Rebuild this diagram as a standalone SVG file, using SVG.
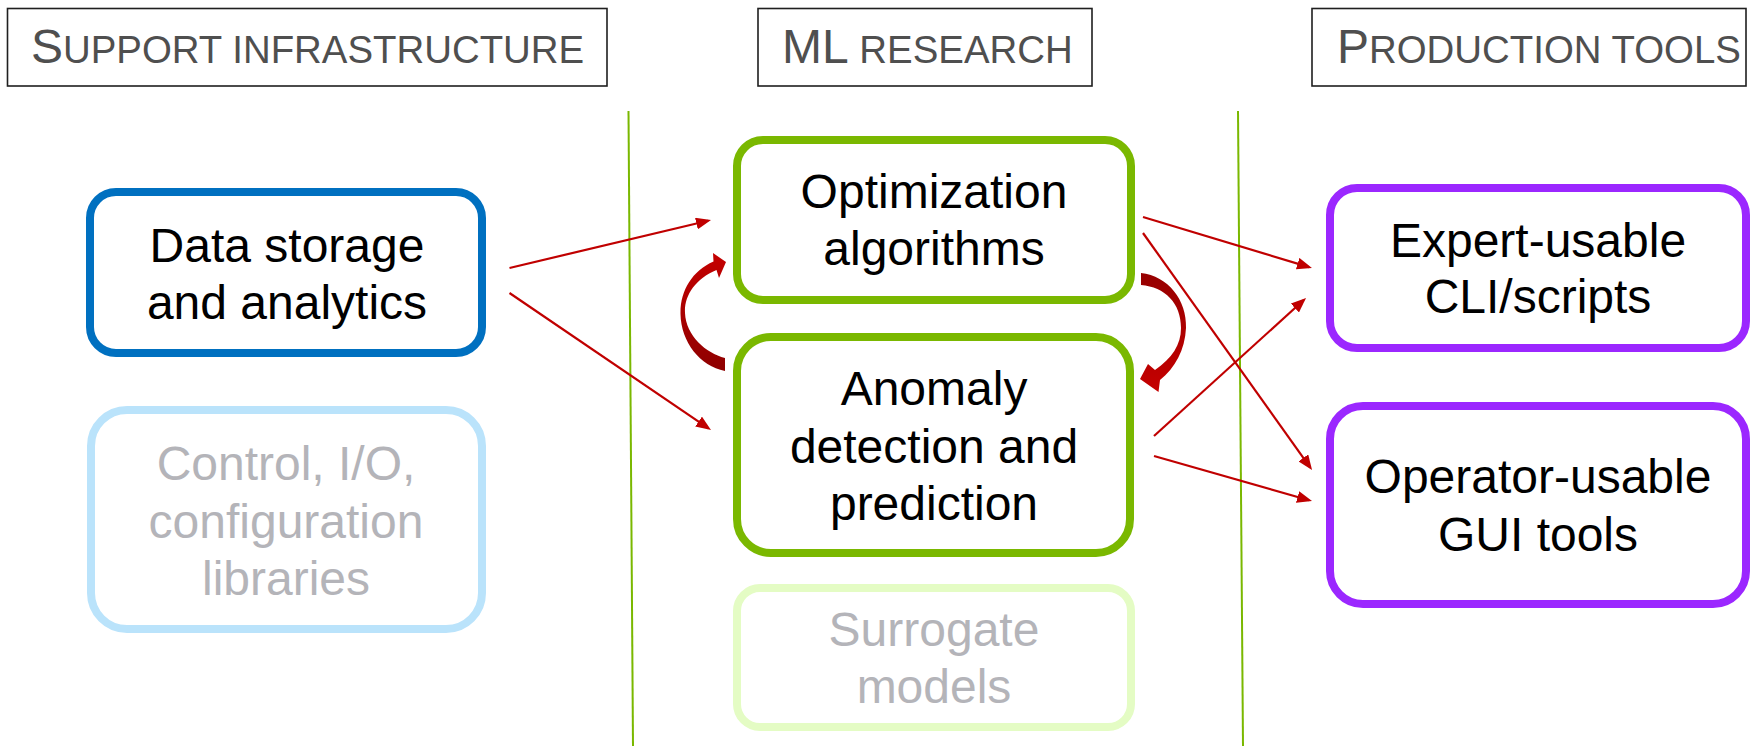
<svg xmlns="http://www.w3.org/2000/svg" width="1752" height="746" viewBox="0 0 1752 746">
  <style>
    .hdr-box { fill: #ffffff; stroke: #1f1f1f; stroke-width: 1.6; }
    .hdr { font-family: "Liberation Sans", Arial, sans-serif; font-size: 48px; fill: #4f4f4f; }
    .sc { font-size: 38.4px; }
    .node-box { fill: #ffffff; stroke-width: 8; }
    .lbl { font-family: "Liberation Sans", Arial, sans-serif; font-size: 48px; fill: #000000; text-anchor: middle; }
    .lbl.dim { fill: #b4b4b9; }
    .divider { stroke: #7ab800; stroke-width: 2; fill: none; }
    .link { stroke: #c00000; stroke-width: 2.2; fill: none; marker-end: url(#arrow); }
  </style>
  <defs>
    <marker id="arrow" viewBox="0 0 15 12" refX="12" refY="6" markerWidth="15" markerHeight="12" markerUnits="userSpaceOnUse" orient="auto">
      <path d="M0,0 L15,6 L0,12 Z" fill="#c00000"/>
    </marker>
    <linearGradient id="curveUp" gradientUnits="userSpaceOnUse" x1="0" y1="371" x2="0" y2="254">
      <stop offset="0" stop-color="#8e0000"/>
      <stop offset="1" stop-color="#c40000"/>
    </linearGradient>
    <linearGradient id="curveDown" gradientUnits="userSpaceOnUse" x1="0" y1="273" x2="0" y2="388">
      <stop offset="0" stop-color="#960000"/>
      <stop offset="1" stop-color="#c40000"/>
    </linearGradient>
  </defs>

  <rect width="1752" height="746" fill="#ffffff"/>

  <!-- column headers -->
  <g id="header-support">
    <rect class="hdr-box" x="7.5" y="8.5" width="599.5" height="77.5"/>
    <text class="hdr" x="31" y="63">S<tspan class="sc">UPPORT INFRASTRUCTURE</tspan></text>
  </g>
  <g id="header-ml">
    <rect class="hdr-box" x="758" y="8.5" width="334" height="77.5"/>
    <text class="hdr" x="782" y="63">ML<tspan class="sc"> RESEARCH</tspan></text>
  </g>
  <g id="header-production">
    <rect class="hdr-box" x="1312" y="8.5" width="434" height="77.5"/>
    <text class="hdr" x="1337" y="63">P<tspan class="sc">RODUCTION TOOLS</tspan></text>
  </g>

  <!-- column dividers -->
  <g id="dividers">
    <line class="divider" x1="628.5" y1="111" x2="633" y2="746"/>
    <line class="divider" x1="1238" y1="111" x2="1243" y2="746"/>
  </g>

  <!-- support infrastructure -->
  <g id="data-storage">
    <rect class="node-box" x="90" y="192" width="392" height="161" rx="26" stroke="#0070c0"/>
    <text class="lbl" x="287" y="261.5">Data storage</text>
    <text class="lbl" x="287" y="319">and analytics</text>
  </g>
  <g id="control-io">
    <rect class="node-box" x="91" y="410" width="391" height="219" rx="36" stroke="#bae3fb"/>
    <text class="lbl dim" x="286" y="480">Control, I/O,</text>
    <text class="lbl dim" x="286" y="537.5">configuration</text>
    <text class="lbl dim" x="286" y="595">libraries</text>
  </g>

  <!-- ML research -->
  <g id="optimization">
    <rect class="node-box" x="737" y="140" width="394" height="160" rx="26" stroke="#7ab800"/>
    <text class="lbl" x="934" y="208">Optimization</text>
    <text class="lbl" x="934" y="265">algorithms</text>
  </g>
  <g id="anomaly">
    <rect class="node-box" x="737" y="337" width="393" height="216" rx="34" stroke="#7ab800"/>
    <text class="lbl" x="934" y="405">Anomaly</text>
    <text class="lbl" x="934" y="462.5">detection and</text>
    <text class="lbl" x="934" y="520">prediction</text>
  </g>
  <g id="surrogate">
    <rect class="node-box" x="737" y="588" width="394" height="139" rx="23" stroke="#e4fcc4"/>
    <text class="lbl dim" x="934" y="646">Surrogate</text>
    <text class="lbl dim" x="934" y="703">models</text>
  </g>

  <!-- production tools -->
  <g id="expert-cli">
    <rect class="node-box" x="1330" y="188" width="416" height="160" rx="27" stroke="#9b27ff"/>
    <text class="lbl" x="1538" y="257">Expert-usable</text>
    <text class="lbl" x="1538" y="313">CLI/scripts</text>
  </g>
  <g id="operator-gui">
    <rect class="node-box" x="1330" y="406" width="416" height="198" rx="33" stroke="#9b27ff"/>
    <text class="lbl" x="1538" y="493">Operator-usable</text>
    <text class="lbl" x="1538" y="551">GUI tools</text>
  </g>

  <!-- connectors -->
  <g id="connectors">
    <line class="link" x1="509.5" y1="268" x2="708.1" y2="220.7"/>
    <line class="link" x1="509.5" y1="293" x2="708.5" y2="428.3"/>
    <line class="link" x1="1143" y1="217" x2="1309.1" y2="267.1"/>
    <line class="link" x1="1143" y1="233" x2="1310.3" y2="467.6"/>
    <line class="link" x1="1154" y1="436" x2="1303.8" y2="300"/>
    <line class="link" x1="1154" y1="456" x2="1309.1" y2="500.2"/>
    <!-- curved feedback arrows between the two research boxes -->
    <path d="M725,358 C706,353 686,336 685,313 C684,296 695,279 716.5,270 L719,278 L726,262 L713,253 L713.5,261.5 C692,271 680,291 680.5,314 C681,342 700,366 725,371 Z" fill="url(#curveUp)"/>
    <path d="M1141,273 C1168,276 1187,300 1186,328 C1185,350 1175,368 1160,380 L1158.5,392 L1140,379 L1148,364 L1155,370 C1172,358 1181,345 1181,328 C1181,303 1165,287 1141,285 Z" fill="url(#curveDown)"/>
  </g>
</svg>
